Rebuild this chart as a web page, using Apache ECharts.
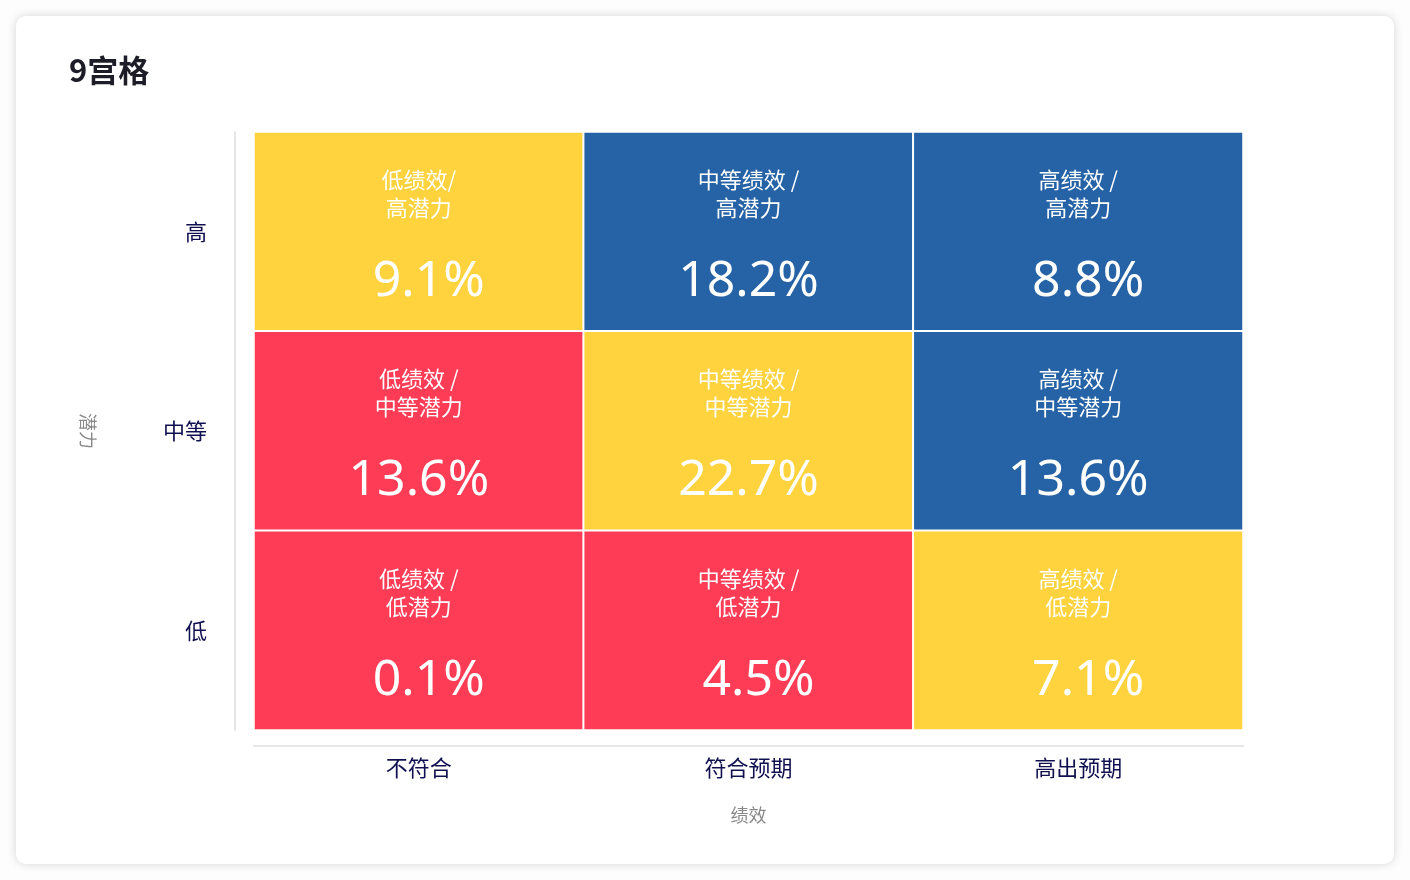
<!DOCTYPE html>
<html>
<head>
<meta charset="utf-8">
<script src="https://cdn.jsdelivr.net/npm/echarts@6/dist/echarts.min.js"></script>
<style>
html,body{margin:0;padding:0;width:1410px;height:880px;background:#fdfdfd;overflow:hidden;}
#card{position:absolute;left:16px;top:16px;width:1378px;height:848px;background:#fff;border-radius:10px;box-shadow:0 0 10px rgba(0,0,0,0.16);}
#chart{position:absolute;left:0;top:0;width:1378px;height:848px;}
</style>
</head>
<body>
<div id="card"><div id="chart"></div></div>
<script>
const title = '9宫格';
const perfCategories = ['不符合', '符合预期', '高出预期'];
const potentialCategories = ['低', '中等', '高'];
const xAxisName = '绩效';
const yAxisName = '潜力';
// cells: [perfIndex, potentialIndex]
const cellPos = [[0,2],[1,2],[2,2],[0,1],[1,1],[2,1],[0,0],[1,0],[2,0]];
const cellTitles = ['低绩效/\n高潜力','中等绩效 /\n高潜力','高绩效 /\n高潜力',
                    '低绩效 /\n中等潜力','中等绩效 /\n中等潜力','高绩效 /\n中等潜力',
                    '低绩效 /\n低潜力','中等绩效 /\n低潜力','高绩效 /\n低潜力'];
const cellValues = [9.1, 18.2, 8.8, 13.6, 22.7, 13.6, 0.1, 4.5, 7.1];

const data = cellPos.map((p, i) => ({
  value: [p[0], p[1], p[0] + p[1], cellValues[i]],
  name: cellTitles[i]
}));

const chart = echarts.init(document.getElementById('chart'));
const font = '"Noto Sans CJK SC", "Noto Sans", sans-serif';
chart.setOption({
  textStyle: { fontFamily: font },
  title: {
    text: title, left: 48, top: 34,
    textStyle: { fontSize: 31, fontWeight: 'bold', color: '#1d1d28', fontFamily: font }
  },
  grid: { left: 238, right: 151, top: 116, bottom: 134 },
  xAxis: {
    type: 'category', data: perfCategories, offset: 16,
    name: xAxisName, nameLocation: 'middle', nameGap: 60,
    nameTextStyle: { color: '#888', fontSize: 18, fontFamily: font },
    axisLine: { lineStyle: { color: '#e6e6e6', width: 2 } },
    axisTick: { show: false },
    axisLabel: { color: '#101050', fontSize: 22, margin: 11, fontFamily: font },
    splitLine: { show: false }, splitArea: { show: false }
  },
  yAxis: {
    type: 'category', data: potentialCategories, offset: 19,
    name: yAxisName, nameLocation: 'middle', nameGap: 138, nameRotate: -90,
    nameTextStyle: { color: '#888', fontSize: 18, fontFamily: font },
    axisLine: { lineStyle: { color: '#e6e6e6', width: 2 } },
    axisTick: { show: false },
    axisLabel: { color: '#101050', fontSize: 22, margin: 28, fontFamily: font },
    splitLine: { show: false }, splitArea: { show: false }
  },
  visualMap: {
    show: false, type: 'piecewise', dimension: 2, seriesIndex: 0,
    pieces: [
      { lte: 1, color: '#ff3c55' },
      { gt: 1, lt: 3, color: '#fed33e' },
      { gte: 3, color: '#2563a6' }
    ]
  },
  series: [{
    type: 'heatmap',
    data: data,
    itemStyle: { borderColor: '#fff', borderWidth: 2 },
    emphasis: { disabled: true },
    label: {
      show: true,
      offset: [0, 6],
      formatter: p => '{t|' + p.name.split('\n').join('}\n{t|') + '}\n{s|}\n{' +
        (p.value[3] < 10 ? 'v1' : 'v') + '|' + p.value[3] + '%}',
      rich: {
        t: { color: '#fff', fontSize: 22, lineHeight: 28, fontFamily: font },
        s: { lineHeight: 32 },
        v: { color: '#fff', fontSize: 50, lineHeight: 56, fontFamily: '"Noto Sans", sans-serif' },
        v1: { color: '#fff', fontSize: 50, lineHeight: 56, padding: [0, 0, 0, 20], fontFamily: '"Noto Sans", sans-serif' }
      }
    }
  }]
});
</script>
</body>
</html>
